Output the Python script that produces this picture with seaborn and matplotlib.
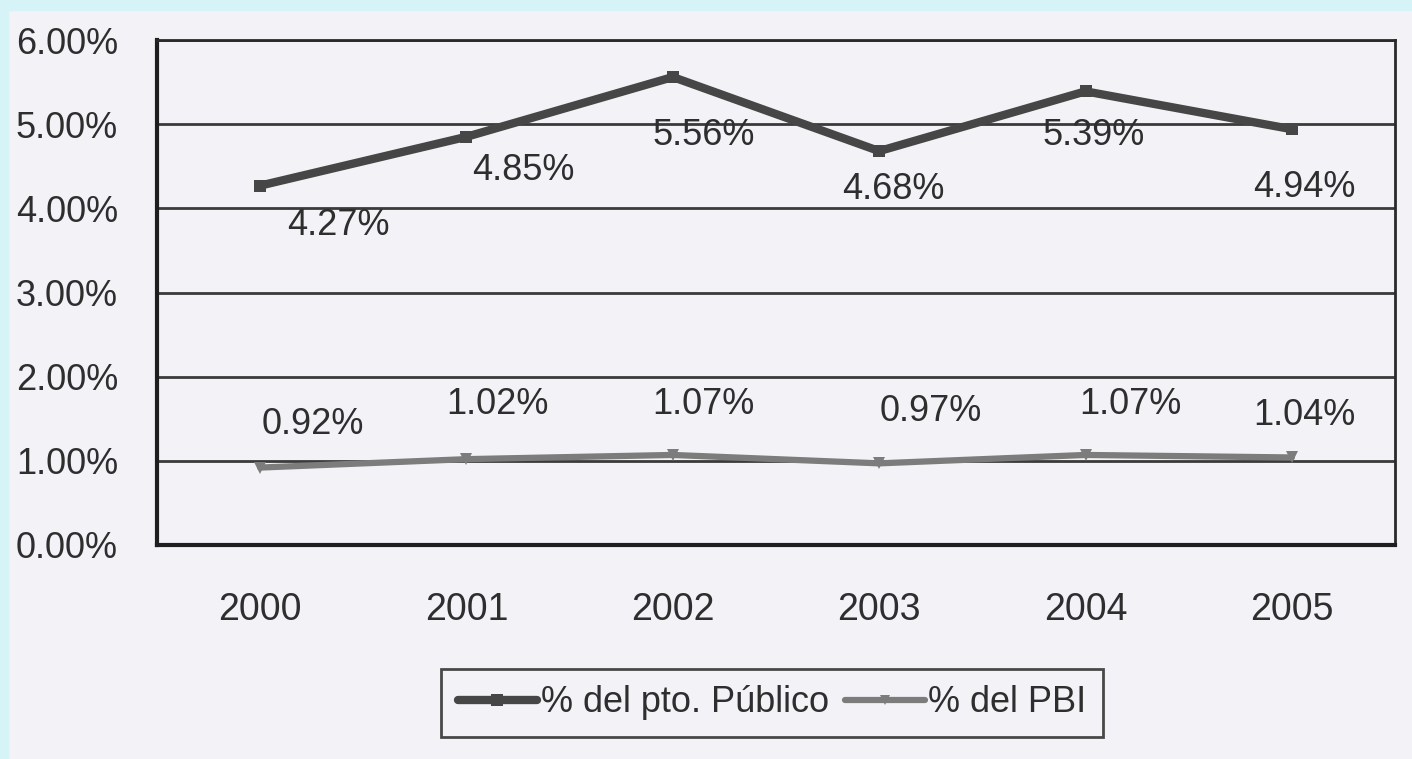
import pandas as pd
import numpy as np
import seaborn as sns
import matplotlib.pyplot as plt
from matplotlib.patches import Rectangle

anios = ['2000', '2001', '2002', '2003', '2004', '2005']
pto_publico = [4.27, 4.85, 5.56, 4.68, 5.39, 4.94]
pbi = [0.92, 1.02, 1.07, 0.97, 1.07, 1.04]
serie_pto = '% del pto. Público'
serie_pbi = '% del PBI'

# desplazamiento de etiquetas (puntos) tal como aparecen en el original
off_pto = [(56, -29), (41, -24), (22, -42), (10, -28), (6, -32), (9, -42)]
off_pbi = [(38, 31), (22, 39), (22, 36), (37, 37), (32, 36), (9, 30)]

df = pd.DataFrame({
    'x': list(range(len(anios))) * 2,
    'valor': pto_publico + pbi,
    'serie': [serie_pto] * len(anios) + [serie_pbi] * len(anios),
})

sns.set_style('white')
plt.rcParams['font.family'] = ['Liberation Sans', 'DejaVu Sans']

fondo = '#f3f2f7'
fig = plt.figure(figsize=(14.12, 7.59), dpi=100, facecolor=fondo)
ax = fig.add_axes([157 / 1412, 1 - 545 / 759, (1395 - 157) / 1412, (545 - 40) / 759])
ax.set_facecolor(fondo)

# franja celeste del borde
fig.patches.append(Rectangle((0, 0), 8 / 1412, 1, transform=fig.transFigure,
                             color='#d6f3f8', zorder=0))
fig.patches.append(Rectangle((0, 1 - 10 / 759), 1, 10 / 759, transform=fig.transFigure,
                             color='#d6f3f8', zorder=0))

sns.lineplot(data=df, x='x', y='valor', hue='serie', style='serie',
             palette={serie_pto: '#464646', serie_pbi: '#7c7c7c'},
             markers={serie_pto: 's', serie_pbi: 'v'}, dashes=False,
             markersize=9, ax=ax, legend=False, zorder=3)
for ln, lw in zip(ax.lines, [6, 4.5]):
    ln.set_linewidth(lw)
    ln.set_markeredgewidth(0)

for i, v in enumerate(pto_publico):
    ax.annotate(f'{v:.2f}%', (i, v), xytext=off_pto[i], textcoords='offset points',
                ha='center', va='center', fontsize=26, color='#2e2e2e')
for i, v in enumerate(pbi):
    ax.annotate(f'{v:.2f}%', (i, v), xytext=off_pbi[i], textcoords='offset points',
                ha='center', va='center', fontsize=26, color='#2e2e2e')

ax.set_xlim(-0.5, len(anios) - 0.5)
ax.set_ylim(0, 6)
ax.set_yticks(np.arange(0, 7, 1))
ax.set_yticklabels([f'{t:.2f}%' for t in np.arange(0, 7, 1)])
ax.set_xticks(range(len(anios)))
ax.set_xticklabels(anios)
ax.set_xticks(np.arange(-0.5, len(anios), 1), minor=True)
ax.tick_params(axis='x', which='major', length=0, pad=34, labelsize=27, labelcolor='#2e2e2e')
ax.tick_params(axis='x', which='minor', length=11, width=2, color='#222222', direction='out')
ax.tick_params(axis='y', length=11, width=2, color='#222222', direction='out', pad=17,
               labelsize=26, labelcolor='#2e2e2e')
ax.grid(axis='y', color='#3a3a3a', linewidth=2)
ax.set_axisbelow(True)
ax.set_xlabel('')
ax.set_ylabel('')

for lado in ['left', 'bottom']:
    ax.spines[lado].set_color('#1e1e1e')
    ax.spines[lado].set_linewidth(3)
for lado in ['right', 'top']:
    ax.spines[lado].set_color('#2a2a2a')
    ax.spines[lado].set_linewidth(2)

handles = [plt.Line2D([], [], color='#464646', lw=6, marker='s', markersize=8, markeredgewidth=0),
           plt.Line2D([], [], color='#7c7c7c', lw=4.5, marker='v', markersize=7, markeredgewidth=0)]
leg = fig.legend(handles, [serie_pto, serie_pbi], loc='center', bbox_to_anchor=(772 / 1412, 1 - 703 / 759),
                 ncol=2, fontsize=26, frameon=True, fancybox=False, handlelength=2.2,
                 handletextpad=0.1, columnspacing=0.45, borderpad=0.45, borderaxespad=0)
leg.get_frame().set_edgecolor('#1e1e1e')
leg.get_frame().set_linewidth(2)
leg.get_frame().set_facecolor(fondo)
for t in leg.get_texts():
    t.set_color('#2e2e2e')

plt.savefig('out.png', dpi=100, facecolor=fondo)
